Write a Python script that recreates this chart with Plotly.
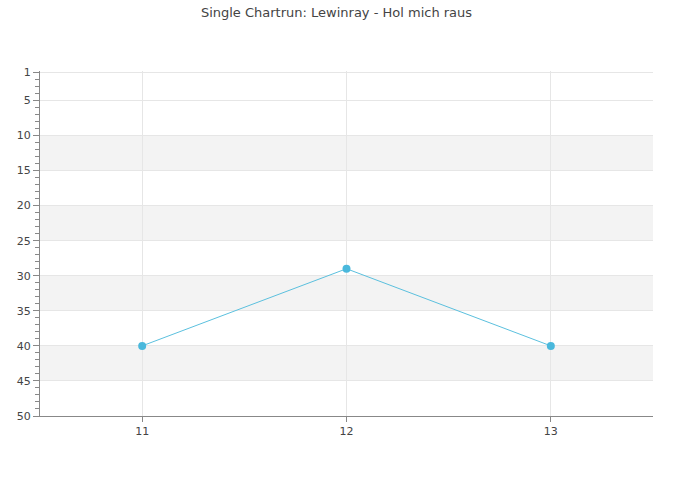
import plotly.graph_objects as go

weeks = [11, 12, 13]
positions = [40, 29, 40]
title_text = "Single Chartrun: Lewinray - Hol mich raus"
y_tick_vals = [1, 5, 10, 15, 20, 25, 30, 35, 40, 45, 50]
band_ranges = [(10, 15), (20, 25), (30, 35), (40, 45)]

fig = go.Figure()
fig.add_trace(go.Scatter(
    x=weeks, y=positions, mode="lines+markers",
    line=dict(color="#5bc0de", width=1),
    marker=dict(color="#4ab8dc", size=8, symbol="circle"),
    hoverinfo="x+y", showlegend=False,
))

for a, b in band_ranges:
    fig.add_shape(type="rect", xref="paper", yref="y", x0=0, x1=1, y0=a, y1=b,
                  fillcolor="#f3f3f3", line_width=0, layer="below")

fig.update_layout(
    width=673, height=500,
    margin=dict(l=40, r=20, t=71, b=84),
    paper_bgcolor="white", plot_bgcolor="white",
    font=dict(family="DejaVu Sans", size=11, color="#444"),
    title=dict(text=title_text, x=0.5, xanchor="center", y=0.985, yanchor="top",
               font=dict(size=13, color="#444")),
    xaxis=dict(range=[10.5, 13.5], tickvals=weeks, showgrid=True, gridcolor="#e6e6e6",
               zeroline=False, showline=True, linecolor="#888", ticks="outside",
               ticklen=5, tickcolor="#888", tickfont=dict(size=11, color="#444")),
    yaxis=dict(range=[50, 0.8], tickvals=y_tick_vals, showgrid=True, gridcolor="#e6e6e6",
               zeroline=False, showline=True, linecolor="#888", ticks="outside",
               ticklen=6, tickcolor="#888", tickfont=dict(size=11, color="#444"),
               minor=dict(tickvals=list(range(1, 51)), ticks="outside", ticklen=4,
                          tickcolor="#888", showgrid=False)),
)

fig.write_html("out.html")
